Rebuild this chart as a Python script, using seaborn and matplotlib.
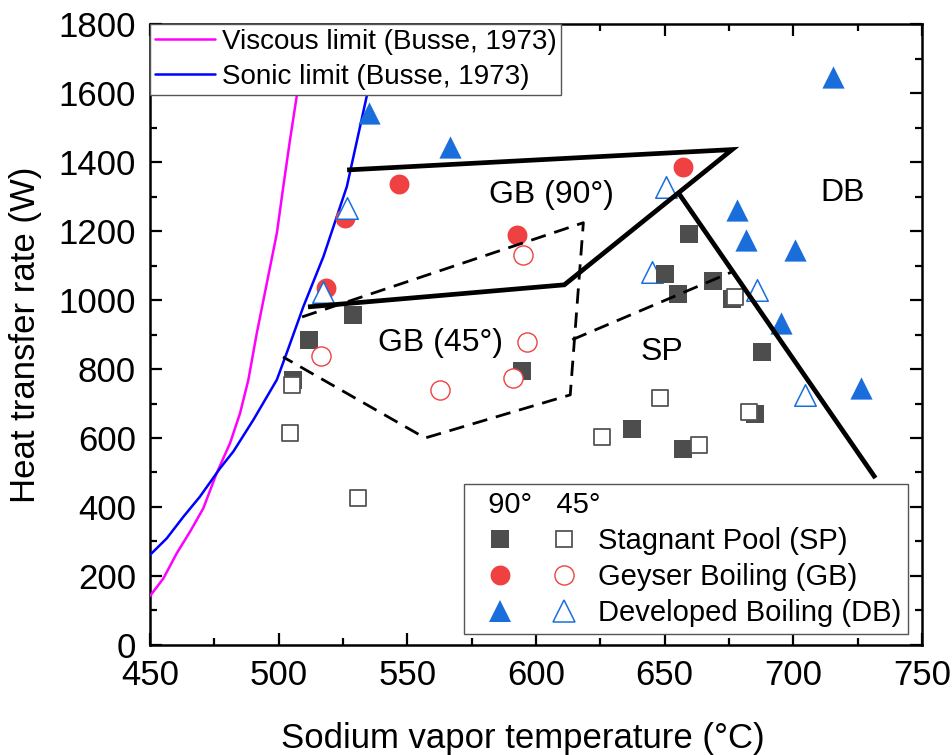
import matplotlib
matplotlib.use("Agg")
import matplotlib.pyplot as plt
import seaborn as sns
from matplotlib.lines import Line2D
from matplotlib.legend_handler import HandlerTuple
from matplotlib.ticker import MultipleLocator, AutoMinorLocator

# ---- Busse (1973) limits ----
viscous_T = [450.0, 455.2, 460.4, 465.6, 470.7, 475.9, 481.1, 485.0, 488.2,
             491.5, 495.4, 499.3, 501.8, 504.4, 507.0, 511.0]
viscous_W = [142, 193, 266, 329, 396, 498, 585, 672, 768,
             904, 1049, 1194, 1329, 1464, 1590, 1800]
sonic_T = [450.0, 456.5, 463.0, 469.4, 477.2, 482.4, 490.2, 499.3,
           503.1, 509.6, 517.4, 526.5, 534.2, 540.4]
sonic_W = [261, 309, 372, 430, 512, 561, 653, 769,
           846, 981, 1126, 1329, 1590, 1800]

# ---- experiments: stagnant pool (SP), geyser boiling (GB), developed boiling (DB) ----
sp90_T = [505.6, 511.8, 528.9, 594.6, 650.2, 655.3, 659.5, 668.9, 676.2, 687.9, 685.2, 637.4, 657.2]
sp90_W = [769, 884, 957, 795, 1076, 1018, 1192, 1056, 1003, 850, 670, 626, 568]
sp45_T = [505.2, 504.4, 530.9, 625.7, 648.3, 663.4, 682.9, 677.4]
sp45_W = [754, 615, 426, 603, 716, 580, 676, 1009]
gb90_T = [525.8, 546.8, 518.4, 592.7, 657.2]
gb90_W = [1238, 1337, 1035, 1189, 1386]
gb45_T = [516.5, 595.0, 596.6, 591.1, 562.7]
gb45_W = [838, 1131, 879, 774, 740]
db90_T = [535.1, 566.6, 715.5, 678.2, 681.7, 700.7, 695.3, 726.4]
db90_W = [1543, 1444, 1647, 1262, 1175, 1146, 934, 745]
db45_T = [526.6, 517.3, 650.6, 645.2, 686.0, 704.6]
db45_W = [1267, 1024, 1328, 1082, 1030, 725]

# ---- regime boundaries ----
gb90_bound_T = [526.6, 676.2, 611.0, 511.4]
gb90_bound_W = [1377, 1436, 1044, 980]
db_bound_T = [655.3, 731.9]
db_bound_W = [1311, 484]
gb45_bound_T = [509.1, 618.4, 613.3, 556.9, 501.7]
gb45_bound_W = [951, 1224, 725, 600, 835]
sp45_bound_T = [614.1, 676.3]
sp45_bound_W = [885, 1082]

region_labels = ["GB (90°)", "DB", "SP", "GB (45°)"]
region_T = [605.9, 719.0, 649.0, 562.7]
region_W = [1305, 1311, 850, 876]

GRAY = "#4d4d4d"
GRAY_EDGE = "#555555"
RED = "#ef4141"
BLUE = "#1a6edc"

sns.set_theme(style="ticks")
plt.rcParams["font.family"] = ["Liberation Sans", "DejaVu Sans"]
plt.rcParams["text.color"] = "black"
plt.rcParams["axes.labelcolor"] = "black"

fig = plt.figure(figsize=(9.53, 7.55), dpi=100)
ax = fig.add_axes([0.1574, 0.1457, 0.8101, 0.8225])

# limit curves
sns.lineplot(x=viscous_T, y=viscous_W, sort=False, estimator=None, color="#ff00ff",
             lw=1.8, ax=ax, zorder=3)
sns.lineplot(x=sonic_T, y=sonic_W, sort=False, estimator=None, color="#0000ff",
             lw=1.8, ax=ax, zorder=3)

# experimental points
sns.scatterplot(x=gb90_T, y=gb90_W, marker="o", s=205, color=RED, edgecolor=RED,
                linewidth=0, ax=ax, zorder=4)
sns.scatterplot(x=db45_T, y=db45_W, marker="^", s=240, color="white", edgecolor=BLUE,
                linewidth=1.1, ax=ax, zorder=5)
sns.scatterplot(x=sp90_T, y=sp90_W, marker="s", s=169, color=GRAY, edgecolor=GRAY,
                linewidth=0, ax=ax, zorder=6)
sns.scatterplot(x=sp45_T, y=sp45_W, marker="s", s=135, color="white", edgecolor=GRAY_EDGE,
                linewidth=1.3, ax=ax, zorder=7)
sns.scatterplot(x=gb45_T, y=gb45_W, marker="o", s=190, color="white", edgecolor=RED,
                linewidth=1.0, ax=ax, zorder=8)
sns.scatterplot(x=db90_T, y=db90_W, marker="^", s=256, color=BLUE, edgecolor=BLUE,
                linewidth=0, ax=ax, zorder=8)

# regime boundaries
ax.plot(gb90_bound_T, gb90_bound_W, color="black", lw=3.4, solid_joinstyle="miter",
        solid_capstyle="butt", zorder=10)
ax.plot(db_bound_T, db_bound_W, color="black", lw=3.4, solid_capstyle="butt", zorder=10)
ax.plot(gb45_bound_T, gb45_bound_W, color="black", lw=2.0, dashes=(5.5, 3.2), zorder=10)
ax.plot(sp45_bound_T, sp45_bound_W, color="black", lw=2.0, dashes=(5.5, 3.2), zorder=10)

for lab, t, w in zip(region_labels, region_T, region_W):
    ax.text(t, w, lab, fontsize=23, ha="center", va="center", color="black", zorder=11)

# axes
ax.set_xlim(450, 750)
ax.set_ylim(0, 1800)
ax.xaxis.set_major_locator(MultipleLocator(50))
ax.yaxis.set_major_locator(MultipleLocator(200))
ax.xaxis.set_minor_locator(AutoMinorLocator(2))
ax.yaxis.set_minor_locator(AutoMinorLocator(2))
ax.tick_params(which="both", direction="in", top=True, right=True, width=1.6,
               colors="black")
ax.tick_params(which="major", length=8.5, labelsize=25, pad=10)
ax.tick_params(which="minor", length=5)
for sp in ax.spines.values():
    sp.set_linewidth(1.8)
    sp.set_color("black")
ax.set_xlabel("Sodium vapor temperature (°C)", fontsize=25, labelpad=22)
ax.xaxis.label.set_x(0.4827)
ax.set_ylabel("Heat transfer rate (W)", fontsize=25, labelpad=12)

# legend for the limits
lim_handles = [Line2D([], [], color="#ff00ff", lw=1.8),
               Line2D([], [], color="#0000ff", lw=1.8)]
lim_labels = ["Viscous limit (Busse, 1973)", "Sonic limit (Busse, 1973)"]
leg1 = ax.legend(lim_handles, lim_labels, loc="upper left", bbox_to_anchor=(0, 1),
                 borderaxespad=0, fontsize=20, frameon=True, fancybox=False,
                 edgecolor=GRAY_EDGE, framealpha=1, handlelength=2.15,
                 handletextpad=0.25, labelspacing=0.33, borderpad=0.18)
leg1.get_frame().set_linewidth(1.0)
leg1.set_zorder(20)
ax.add_artist(leg1)

# legend for the flow regimes
def mk(marker, ms, fc, ec, mew):
    return Line2D([], [], ls="none", marker=marker, ms=ms, mfc=fc, mec=ec, mew=mew)

reg_handles = [
    (mk("s", 13, GRAY, GRAY, 0), mk("s", 11.6, "white", GRAY_EDGE, 1.3)),
    (mk("o", 14.3, RED, RED, 0), mk("o", 13.8, "white", RED, 1.0)),
    (mk("^", 16, BLUE, BLUE, 0), mk("^", 15.5, "white", BLUE, 1.1)),
]
reg_labels = ["Stagnant Pool (SP)", "Geyser Boiling (GB)", "Developed Boiling (DB)"]
leg2 = ax.legend(reg_handles, reg_labels, loc="lower right",
                 bbox_to_anchor=(0.9822, 0.0177), borderaxespad=0, fontsize=21,
                 title="  90°   45°", title_fontsize=21, alignment="left",
                 frameon=True, fancybox=False, edgecolor=GRAY_EDGE, framealpha=1,
                 handlelength=4.15, handletextpad=0.17, labelspacing=0.27,
                 borderpad=0.25, handler_map={tuple: HandlerTuple(ndivide=None, pad=0.27)})
leg2.get_frame().set_linewidth(1.0)
leg2.set_zorder(20)

fig.savefig("out.png", dpi=100)
